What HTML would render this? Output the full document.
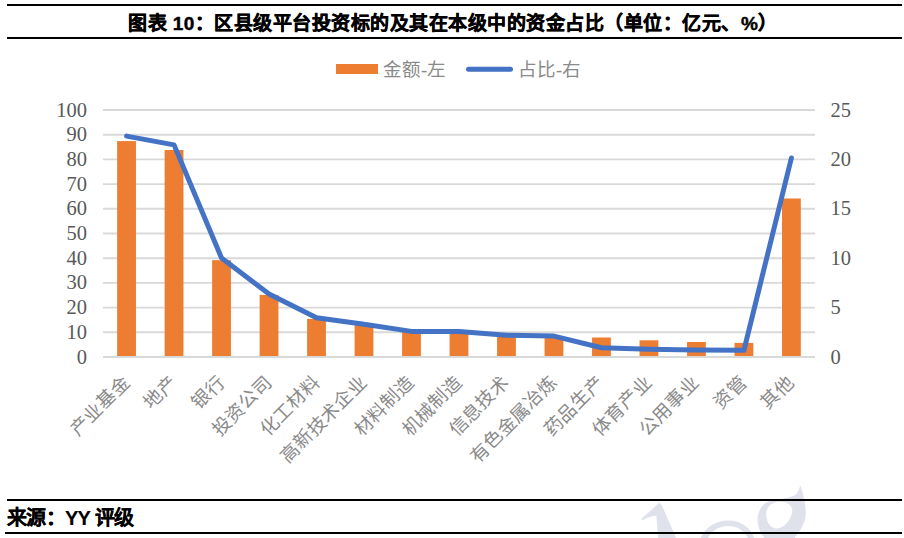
<!DOCTYPE html>
<html lang="zh-CN"><head><meta charset="utf-8"><style>
html,body{margin:0;padding:0;background:#fff;width:904px;height:538px;overflow:hidden;position:relative}
.rule{position:absolute;background:#000;height:2px}
.title{position:absolute;left:128px;top:11.5px;white-space:nowrap;font-family:"Liberation Sans",sans-serif;font-weight:bold;font-size:19px;letter-spacing:0.5px;line-height:24px;color:#000;-webkit-text-stroke:0.45px #000}
.src{position:absolute;left:7px;top:506.5px;white-space:nowrap;font-family:"Liberation Sans",sans-serif;font-weight:bold;font-size:20px;letter-spacing:-0.7px;line-height:22px;color:#000;-webkit-text-stroke:0.15px #000}
.yl{position:absolute;right:817px;font-family:"Liberation Serif",serif;font-size:20.5px;letter-spacing:0px;line-height:22px;color:#595959}
.yr{position:absolute;left:830.5px;font-family:"Liberation Serif",serif;font-size:20.5px;letter-spacing:0px;line-height:22px;color:#595959}
.leg{position:absolute;top:59px;white-space:nowrap;font-family:"Liberation Serif",serif;font-size:18.5px;line-height:22px;color:#8a8a8a}
.cl{position:absolute;width:0;height:0}
.cl span{position:absolute;right:0;top:-11px;white-space:nowrap;font-family:"Liberation Serif",serif;font-size:18.5px;line-height:22px;color:#8a8a8a;transform-origin:100% 50%;transform:rotate(-45deg)}
svg{position:absolute;left:0;top:0}
</style></head><body>
<div class="rule" style="left:7px;top:4px;width:895px"></div>
<div class="rule" style="left:7px;top:37px;width:895px"></div>
<div class="title" id="title">图表 10：区县级平台投资标的及其在本级中的资金占比（单位：亿元、%）</div>
<svg width="904" height="538" viewBox="0 0 904 538">
<g stroke="#d9d9d9" stroke-width="1.9"><line x1="103" x2="815" y1="357.00" y2="357.00"/><line x1="103" x2="815" y1="332.30" y2="332.30"/><line x1="103" x2="815" y1="307.60" y2="307.60"/><line x1="103" x2="815" y1="282.90" y2="282.90"/><line x1="103" x2="815" y1="258.20" y2="258.20"/><line x1="103" x2="815" y1="233.50" y2="233.50"/><line x1="103" x2="815" y1="208.80" y2="208.80"/><line x1="103" x2="815" y1="184.10" y2="184.10"/><line x1="103" x2="815" y1="159.40" y2="159.40"/><line x1="103" x2="815" y1="134.70" y2="134.70"/><line x1="103" x2="815" y1="110.00" y2="110.00"/></g>
<g fill="#ed7d31"><rect x="117.15" y="141.10" width="18.8" height="215.90"/><rect x="164.64" y="150.00" width="18.8" height="207.00"/><rect x="212.13" y="260.20" width="18.8" height="96.80"/><rect x="259.62" y="294.90" width="18.8" height="62.10"/><rect x="307.11" y="318.90" width="18.8" height="38.10"/><rect x="354.60" y="325.00" width="18.8" height="32.00"/><rect x="402.09" y="332.00" width="18.8" height="25.00"/><rect x="449.58" y="332.00" width="18.8" height="25.00"/><rect x="497.07" y="336.00" width="18.8" height="21.00"/><rect x="544.56" y="337.00" width="18.8" height="20.00"/><rect x="592.05" y="337.50" width="18.8" height="19.50"/><rect x="639.54" y="340.30" width="18.8" height="16.70"/><rect x="687.03" y="342.00" width="18.8" height="15.00"/><rect x="734.52" y="342.90" width="18.8" height="14.10"/><rect x="782.01" y="198.50" width="18.8" height="158.50"/></g>
<line x1="103" x2="815" y1="357" y2="357" stroke="#d9d9d9" stroke-width="1.9"/>
<polyline points="126.55,136.10 174.04,144.90 221.53,258.00 269.02,293.90 316.51,317.80 364.00,324.20 411.49,331.40 458.98,331.40 506.47,335.30 553.96,336.10 601.45,347.70 648.94,349.20 696.43,350.10 743.92,350.30 791.41,158.00" fill="none" stroke="#4472c4" stroke-width="5" stroke-linejoin="round" stroke-linecap="round"/>
<rect x="336" y="64" width="42" height="10" fill="#ed7d31"/>
<line x1="468.5" y1="69.3" x2="510.5" y2="69.3" stroke="#4472c4" stroke-width="5" stroke-linecap="round"/>
</svg>
<div class="yl" style="top:345.50px">0</div><div class="yl" style="top:320.80px">10</div><div class="yl" style="top:296.10px">20</div><div class="yl" style="top:271.40px">30</div><div class="yl" style="top:246.70px">40</div><div class="yl" style="top:222.00px">50</div><div class="yl" style="top:197.30px">60</div><div class="yl" style="top:172.60px">70</div><div class="yl" style="top:147.90px">80</div><div class="yl" style="top:123.20px">90</div><div class="yl" style="top:98.50px">100</div><div class="yr" style="top:345.50px">0</div><div class="yr" style="top:296.10px">5</div><div class="yr" style="top:246.70px">10</div><div class="yr" style="top:197.30px">15</div><div class="yr" style="top:147.90px">20</div><div class="yr" style="top:98.50px">25</div>
<div class="leg" style="left:383px">金额-左</div>
<div class="leg" style="left:518px">占比-右</div>
<div class="cl" style="left:126.55px;top:379px"><span>产业基金</span></div><div class="cl" style="left:174.04px;top:379px"><span>地产</span></div><div class="cl" style="left:221.53px;top:379px"><span>银行</span></div><div class="cl" style="left:269.02px;top:379px"><span>投资公司</span></div><div class="cl" style="left:316.51px;top:379px"><span>化工材料</span></div><div class="cl" style="left:364.00px;top:379px"><span>高新技术企业</span></div><div class="cl" style="left:411.49px;top:379px"><span>材料制造</span></div><div class="cl" style="left:458.98px;top:379px"><span>机械制造</span></div><div class="cl" style="left:506.47px;top:379px"><span>信息技术</span></div><div class="cl" style="left:553.96px;top:379px"><span>有色金属冶炼</span></div><div class="cl" style="left:601.45px;top:379px"><span>药品生产</span></div><div class="cl" style="left:648.94px;top:379px"><span>体育产业</span></div><div class="cl" style="left:696.43px;top:379px"><span>公用事业</span></div><div class="cl" style="left:743.92px;top:379px"><span>资管</span></div><div class="cl" style="left:791.41px;top:379px"><span>其他</span></div>
<svg width="904" height="538" viewBox="0 0 904 538" style="position:absolute;left:0;top:0"><g fill="#dfe1eb">
<path d="M659.4 502.6 C660.5 503.5 661.8 505.4 661.8 505.4 L672.7 530.3 L675.8 538 L658.2 538 L656.3 515.5 C652 515.8 647 517.5 643 520.2 C642 519.8 641.5 519 641.5 518.6 C646 514.7 653 509 659.4 502.6 Z"/>
<path d="M701 538 C705 527 716 520.5 728.3 520.5 C741 520.5 751 528 754 538 L748 538 C744 530 737 525.9 728 525.9 C719 525.9 711 531 708 538 Z"/>
<path fill-rule="evenodd" d="M800.2 485.2 C803 492 806 505 805.7 514.8 C805 524 800 531 794.6 538 L764.5 538 C759 532 757 522 757.8 517 C759 508 764 502 772.3 500.3 C780 499 790 498 795.7 494.7 C798 492 799.5 489 800.2 485.2 Z M778 501.8 C770 503 765.5 509 766.2 516 C767 524 772 529 777.5 528.6 C784 528 790 521 792 513 C793.5 506 788 501 778 501.8 Z"/>
</g></svg>
<div class="rule" style="left:7px;top:499px;width:895px"></div>
<div class="src" id="src">来源：YY 评级</div>
<div class="rule" style="left:5px;top:532px;width:897px"></div>
</body></html>
